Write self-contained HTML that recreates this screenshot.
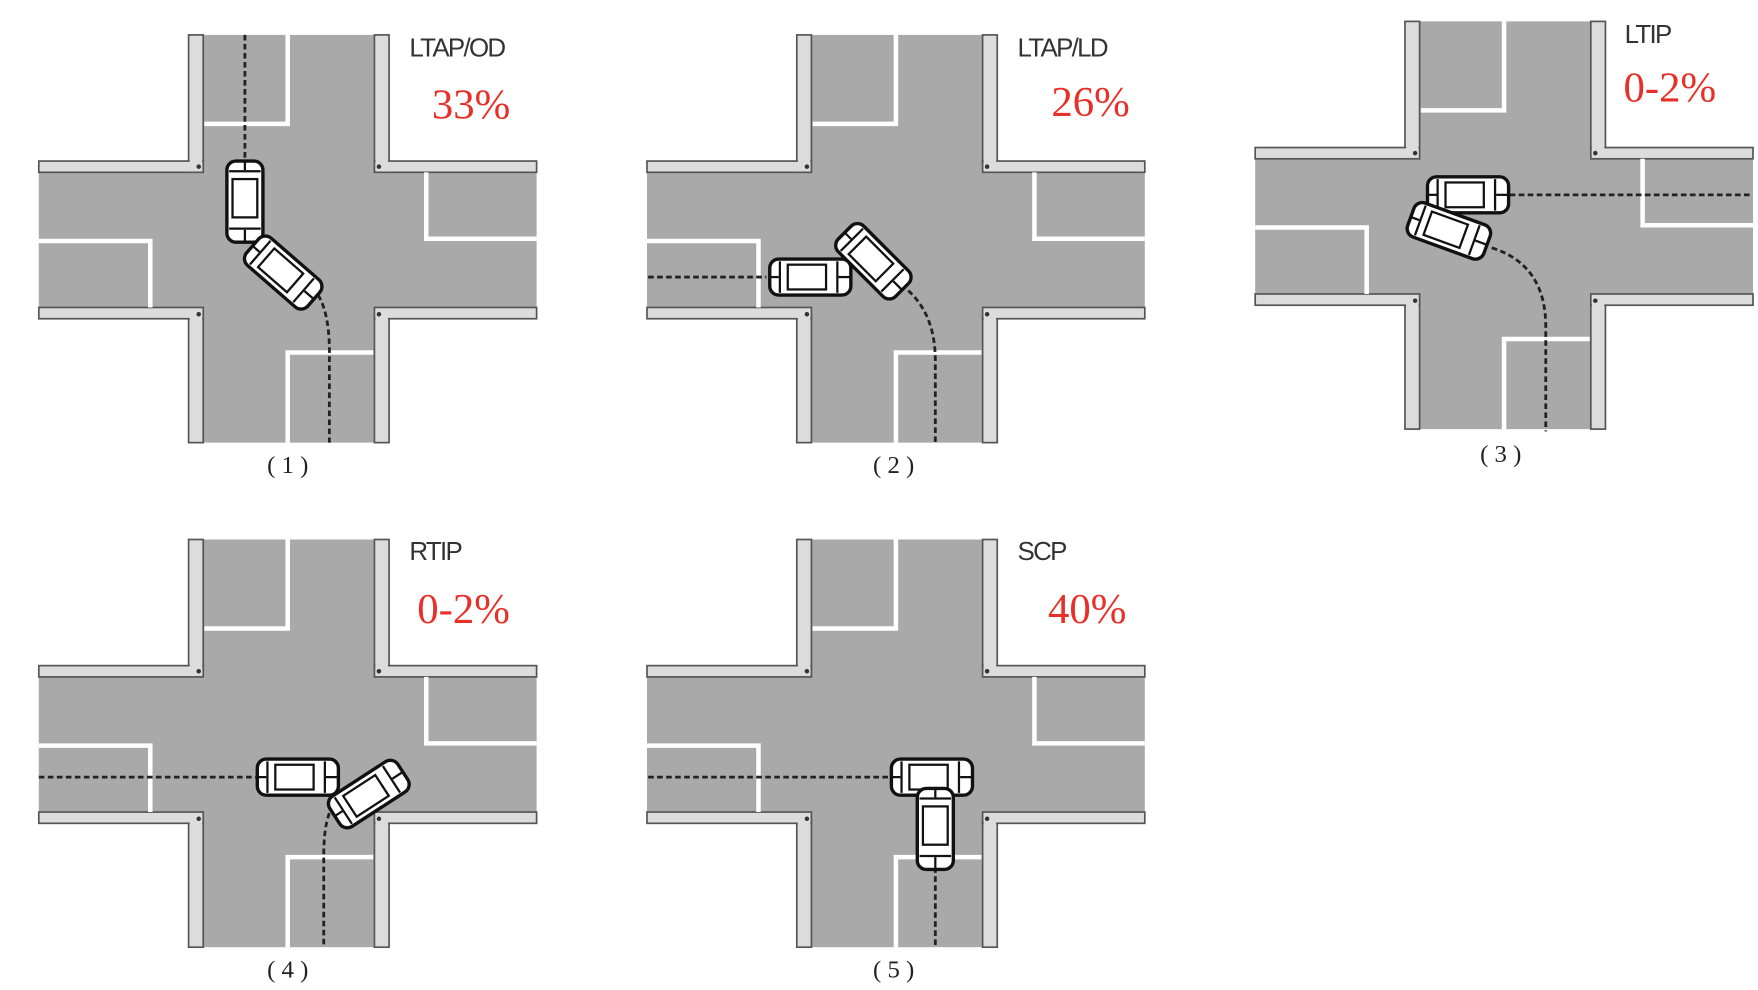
<!DOCTYPE html>
<html><head><meta charset="utf-8"><style>
html,body{margin:0;padding:0;background:#fff;}
svg{display:block;}
.lbl{font-family:"Liberation Sans",sans-serif;font-size:23px;fill:#333;letter-spacing:-1.5px;}
.pct{font-family:"Liberation Serif",serif;font-size:38px;fill:#e8302a;}
.cap{font-family:"Liberation Serif",serif;font-size:22px;fill:#222;}
</style></head><body>
<svg width="1758" height="990" viewBox="0 0 1560 879" xmlns="http://www.w3.org/2000/svg">
<defs>
<g id="x">
  <rect x="167" y="31" width="178" height="362" fill="#a9a9a9"/>
  <rect x="34" y="143" width="442" height="140" fill="#a9a9a9"/>
  <g fill="#dcdcdc" stroke="#555" stroke-width="1.5">
    <rect x="167" y="31" width="13" height="115"/>
    <rect x="332" y="31" width="13" height="115"/>
    <rect x="167" y="280" width="13" height="113"/>
    <rect x="332" y="280" width="13" height="113"/>
    <rect x="34" y="143" width="146" height="10"/>
    <rect x="332" y="143" width="144" height="10"/>
    <rect x="34" y="273" width="146" height="10"/>
    <rect x="332" y="273" width="144" height="10"/>
  </g>
  <g fill="#dcdcdc">
    <rect x="168" y="140" width="11" height="12"/><rect x="333" y="140" width="11" height="12"/>
    <rect x="168" y="274" width="11" height="12"/><rect x="333" y="274" width="11" height="12"/>
  </g>
  <g fill="#333"><circle cx="176" cy="148" r="2"/><circle cx="336" cy="148" r="2"/><circle cx="176" cy="279" r="2"/><circle cx="336" cy="279" r="2"/></g>
  <g fill="none" stroke="#fff" stroke-width="4">
    <polyline points="255,31 255,110 181,110"/>
    <polyline points="378,153 378,212 476,212"/>
    <polyline points="34,214 133,214 133,273"/>
    <polyline points="331,313 255,313 255,393"/>
  </g>
</g>
<g id="car">
  <rect x="-36" y="-16" width="72" height="32" rx="8" fill="#fff" stroke="#111" stroke-width="3"/>
  <rect x="-20" y="-11" width="34" height="22" fill="#fff" stroke="#111" stroke-width="2"/>
  <line x1="-27" y1="-14" x2="-27" y2="14" stroke="#111" stroke-width="2"/>
  <line x1="24" y1="-14" x2="24" y2="14" stroke="#111" stroke-width="2"/>
  <line x1="-36" y1="0" x2="-28" y2="0" stroke="#111" stroke-width="2"/>
  <line x1="25" y1="0" x2="36" y2="0" stroke="#111" stroke-width="2"/>
</g>
</defs>
<!-- Panel 1 -->
<use href="#x"/>
<g fill="none" stroke="#222" stroke-width="2.5" stroke-dasharray="5,3">
  <line x1="217" y1="31" x2="217" y2="145"/>
  <path d="M282,262 Q293,280 292,320 L292,393"/>
</g>
<use href="#car" transform="translate(217,179) rotate(90)"/>
<use href="#car" transform="translate(251,242) rotate(41)"/>
<text class="lbl" x="363" y="50">LTAP/OD</text>
<text class="pct" x="383" y="105">33%</text>
<text class="cap" x="255" y="420" text-anchor="middle">( 1 )</text>

<!-- Panel 2 -->
<use href="#x" transform="translate(540,0)"/>
<g fill="none" stroke="#222" stroke-width="2.5" stroke-dasharray="5,3">
  <line x1="575" y1="246" x2="680" y2="246"/>
  <path d="M806,258 Q830,280 830,320 L830,393"/>
</g>
<use href="#car" transform="translate(719,246)"/>
<use href="#car" transform="translate(775,232) rotate(45)"/>
<text class="lbl" x="903" y="50">LTAP/LD</text>
<text class="pct" x="933" y="103">26%</text>
<text class="cap" x="793" y="420" text-anchor="middle">( 2 )</text>

<!-- Panel 3 -->
<use href="#x" transform="translate(1080,-12)"/>
<g fill="none" stroke="#222" stroke-width="2.5" stroke-dasharray="5,3">
  <line x1="1340" y1="173" x2="1555" y2="173"/>
  <path d="M1324,220 Q1372,235 1372,290 L1372,383"/>
</g>
<use href="#car" transform="translate(1303,173)"/>
<use href="#car" transform="translate(1286,205) rotate(20)"/>
<text class="lbl" x="1442" y="38">LTIP</text>
<text class="pct" x="1441" y="90">0-2%</text>
<text class="cap" x="1332" y="410" text-anchor="middle">( 3 )</text>

<!-- Panel 4 -->
<use href="#x" transform="translate(0,448)"/>
<g fill="none" stroke="#222" stroke-width="2.5" stroke-dasharray="5,3">
  <line x1="34" y1="690" x2="228" y2="690"/>
  <path d="M292,722 Q287,735 287,760 L287,839"/>
</g>
<use href="#car" transform="translate(264,690)"/>
<use href="#car" transform="translate(327,705) rotate(-33)"/>
<text class="lbl" x="363" y="497">RTIP</text>
<text class="pct" x="370" y="553">0-2%</text>
<text class="cap" x="255" y="868" text-anchor="middle">( 4 )</text>

<!-- Panel 5 -->
<use href="#x" transform="translate(540,448)"/>
<g fill="none" stroke="#222" stroke-width="2.5" stroke-dasharray="5,3">
  <line x1="575" y1="690" x2="792" y2="690"/>
  <line x1="830" y1="770" x2="830" y2="839"/>
</g>
<use href="#car" transform="translate(827,690)"/>
<use href="#car" transform="translate(830,736) rotate(90)"/>
<text class="lbl" x="903" y="497">SCP</text>
<text class="pct" x="930" y="553">40%</text>
<text class="cap" x="793" y="868" text-anchor="middle">( 5 )</text>
</svg>
</body></html>
